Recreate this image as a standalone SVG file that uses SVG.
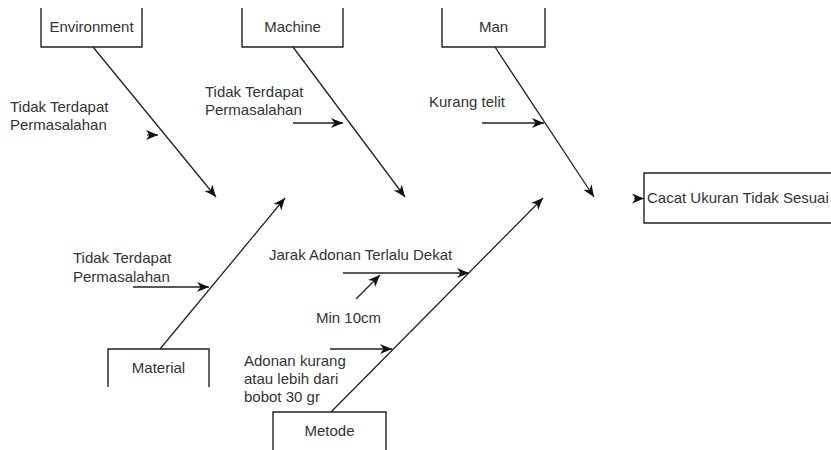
<svg xmlns="http://www.w3.org/2000/svg" width="831" height="450" viewBox="0 0 831 450">
<style>
.box{fill:#fff;stroke:#222;stroke-width:1.4}
.ln{fill:none;stroke:#222;stroke-width:1.3}
text{font-family:"Liberation Sans",Arial,sans-serif;font-size:15px;fill:#333}
.c{text-anchor:middle}
</style>
<defs>
<marker id="ah" markerUnits="userSpaceOnUse" markerWidth="13" markerHeight="11" viewBox="0 0 13 11" refX="12" refY="5.5" orient="auto">
<path d="M0,0.5 L12,5.5 L0,10.5 L3.5,5.5 Z" fill="#111"/>
</marker>
</defs>
<rect width="831" height="450" fill="#fff"/>
<g id="environment">
<path class="box" d="M41,8 V47 H142 V8"/>
<text class="c" x="91.5" y="32">Environment</text>
</g>
<g id="machine">
<path class="box" d="M242,8 V47 H343 V8"/>
<text class="c" x="292.5" y="32">Machine</text>
</g>
<g id="man">
<path class="box" d="M442,8 V47 H545 V8"/>
<text class="c" x="493.5" y="32">Man</text>
</g>
<g id="material">
<path class="box" d="M108,387 V349 H209 V387"/>
<text class="c" x="158.5" y="373">Material</text>
</g>
<g id="metode">
<path class="box" d="M273,450 V412 H386 V450"/>
<text class="c" x="329.5" y="436">Metode</text>
</g>
<g id="effect">
<path class="box" d="M840,173 H644 V223 H840"/>
<text x="647" y="203">Cacat Ukuran Tidak Sesuai</text>
</g>
<g id="labels">
<text x="10" y="112">Tidak Terdapat</text>
<text x="10" y="130">Permasalahan</text>
<text x="205" y="97">Tidak Terdapat</text>
<text x="205" y="115">Permasalahan</text>
<text x="429" y="107">Kurang telit</text>
<text x="73" y="263">Tidak Terdapat</text>
<text x="73" y="282">Permasalahan</text>
<text x="269" y="260">Jarak Adonan Terlalu Dekat</text>
<text x="316" y="323">Min 10cm</text>
<text x="244" y="366">Adonan kurang</text>
<text x="244" y="384">atau lebih dari</text>
<text x="244" y="402">bobot 30 gr</text>
</g>
<g id="connectors">
<line class="ln" x1="93" y1="47" x2="216" y2="197" marker-end="url(#ah)"/>
<line class="ln" x1="293" y1="47" x2="405" y2="197" marker-end="url(#ah)"/>
<line class="ln" x1="495" y1="47" x2="594" y2="197" marker-end="url(#ah)"/>
<line class="ln" x1="160" y1="349" x2="285" y2="198" marker-end="url(#ah)"/>
<line class="ln" x1="331" y1="412" x2="543" y2="198" marker-end="url(#ah)"/>
<line class="ln" x1="634" y1="198.5" x2="644" y2="198.5" stroke="none" marker-end="url(#ah)"/>
<line class="ln" x1="147" y1="135" x2="158" y2="135" stroke="none" marker-end="url(#ah)"/>
<line class="ln" x1="293" y1="123" x2="343" y2="123" marker-end="url(#ah)"/>
<line class="ln" x1="482" y1="123" x2="544" y2="123" marker-end="url(#ah)"/>
<line class="ln" x1="133" y1="287" x2="209" y2="287" marker-end="url(#ah)"/>
<line class="ln" x1="343" y1="273" x2="469" y2="273" marker-end="url(#ah)"/>
<line class="ln" x1="356" y1="299" x2="380" y2="275" marker-end="url(#ah)"/>
<line class="ln" x1="330" y1="349" x2="392" y2="349" marker-end="url(#ah)"/>
</g>
</svg>
